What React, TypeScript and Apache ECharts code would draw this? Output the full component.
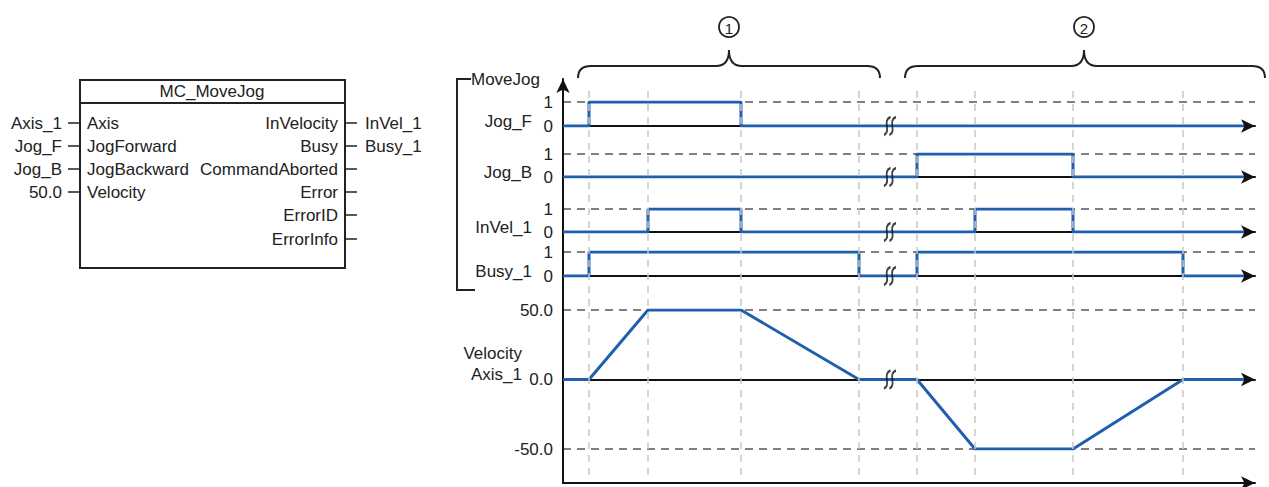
import React, { useEffect, useRef } from 'react';
import * as echarts from 'echarts';

// ---------- data ----------
const rowNames = ['Jog_F', 'Jog_B', 'InVel_1', 'Busy_1'];
const jogF = [[0, 0], [26, 1], [178, 0], [681, 0]];
const jogB = [[0, 0], [354, 1], [510, 0], [681, 0]];
const inVel = [[0, 0], [85, 1], [178, 0], [412, 1], [510, 0], [681, 0]];
const busy = [[0, 0], [26, 1], [296, 0], [354, 1], [620, 0], [681, 0]];
const velocity = [[0, 0], [26, 0], [85, 50], [178, 50], [296, 0], [354, 0], [412, -50], [510, -50], [620, 0], [681, 0]];
const digitalMin = 0;
const digitalMax = 1;
const velocityMin = -50;
const velocityMax = 50;
const velocityStep = 50;
const eventTimes = [26, 85, 178, 296, 354, 412, 510, 620];
const breakTime = 327;
const timeMax = 692;
const phaseLabels = ['1', '2'];
const blockTitle = 'MC_MoveJog';
const blockInputs = ['Axis', 'JogForward', 'JogBackward', 'Velocity'];
const blockOutputs = ['InVelocity', 'Busy', 'CommandAborted', 'Error', 'ErrorID', 'ErrorInfo'];
const inputActuals = ['Axis_1', 'Jog_F', 'Jog_B', '50.0'];
const outputActuals = ['InVel_1', 'Busy_1'];
const groupLabel = 'MoveJog';
const velocityLabel = ['Velocity', 'Axis_1'];

// ---------- layout / style ----------
const FONT = '"Liberation Sans", Arial, sans-serif';
const BLUE = '#1f5fae';
const INK = '#222';
const AX = '#111';
const LEFT = 563;
const RIGHT = 1269 - 1255;
const rowTops = [102, 154, 209, 252];
const rowHeights = [24, 23, 23, 24];
const velTop = 310;
const velHeight = 139;
const ovTop = 79;
const ovBottom = 483;
const guideTop = 392;
const blockRows = [123, 146, 169, 192, 215, 239];

const SQUIGGLE = 'path://M0 17 C7 14 -2 3 6 0 M5 17 C12 14 3 3 11 0';

const braceD1 = 'M578 78 Q578 66 591 66 L716 66 Q729 66 729 50 Q729 66 742 66 L867 66 Q880 66 880 78';
const braceD2 = 'M905 78 Q905 66 918 66 L1071 66 Q1084 66 1084 50 Q1084 66 1097 66 L1252 66 Q1265 66 1265 78';

let shapesRegistered = false;
function registerShapes() {
  if (shapesRegistered) return;
  echarts.graphic.registerShape('brace1', echarts.graphic.extendPath(braceD1, {}));
  echarts.graphic.registerShape('brace2', echarts.graphic.extendPath(braceD2, {}));
  shapesRegistered = true;
}

const txt = (text: string, x: number, y: number, align: string = 'left', size = 17) => ({
  type: 'text',
  silent: true,
  style: {
    text, x, y, fill: INK, font: `${size}px ${FONT}`,
    align, verticalAlign: 'middle', textAlign: align, textVerticalAlign: 'middle',
  },
});
const seg = (x1: number, y1: number, x2: number, y2: number, w = 2) => ({
  type: 'line', silent: true,
  shape: { x1, y1, x2, y2 },
  style: { stroke: INK, lineWidth: w },
});

export default function App() {
  const ref = useRef<HTMLDivElement>(null);
  useEffect(() => {
    if (!ref.current) return;
    registerShapes();
    const chart = echarts.init(ref.current, undefined, { renderer: 'svg' });

    const rowData = [jogF, jogB, inVel, busy];
    const grids: any[] = [];
    const xAxes: any[] = [];
    const yAxes: any[] = [];
    const series: any[] = [];

    const xAxisBase = (i: number) => ({
      gridIndex: i, type: 'value', min: 0, max: timeMax,
      axisLine: { show: true, onZero: true, symbol: ['none', 'arrow'], symbolSize: [10, 14], lineStyle: { color: AX, width: 2 } },
      axisTick: { show: false }, axisLabel: { show: false }, splitLine: { show: false },
    });
    const dashed = { show: true, lineStyle: { color: '#555', type: [8, 6], width: 1.5 } };
    const breakMark = (i: number) => ({
      type: 'scatter', xAxisIndex: i, yAxisIndex: i, data: [[breakTime, 0]], symbol: SQUIGGLE,
      symbolSize: [12, 18], itemStyle: { color: 'rgba(0,0,0,0)', borderColor: AX, borderWidth: 2.2 }, z: 10, silent: true,
    });

    rowData.forEach((d, i) => {
      grids.push({ left: LEFT, right: RIGHT, top: rowTops[i], height: rowHeights[i] });
      xAxes.push(xAxisBase(i));
      yAxes.push({
        gridIndex: i, type: 'value', min: digitalMin, max: digitalMax, interval: 1,
        axisLine: { show: false }, axisTick: { show: false },
        axisLabel: { fontSize: 17, color: INK, margin: 10, fontFamily: FONT },
        splitLine: dashed,
      });
      series.push({
        type: 'line', xAxisIndex: i, yAxisIndex: i, data: d, step: 'end', symbol: 'none',
        lineStyle: { color: BLUE, width: 3 }, z: 3, silent: true,
      });
      series.push(breakMark(i));
    });

    // velocity
    grids.push({ left: LEFT, right: RIGHT, top: velTop, height: velHeight });
    xAxes.push(xAxisBase(4));
    yAxes.push({
      gridIndex: 4, type: 'value', min: velocityMin, max: velocityMax, interval: velocityStep,
      axisLine: { show: false }, axisTick: { show: false },
      axisLabel: { fontSize: 17, color: INK, margin: 10, fontFamily: FONT, formatter: (v: number) => v.toFixed(1) },
      splitLine: dashed,
    });
    series.push({
      type: 'line', xAxisIndex: 4, yAxisIndex: 4, data: velocity, symbol: 'none',
      lineStyle: { color: BLUE, width: 3 }, z: 3, silent: true,
    });
    series.push(breakMark(4));

    // overlay: main axes + guide lines
    grids.push({ left: LEFT, right: RIGHT, top: ovTop, bottom: 487 - ovBottom });
    xAxes.push(xAxisBase(5));
    yAxes.push({
      gridIndex: 5, type: 'value', min: 0, max: ovBottom - ovTop,
      axisLine: { show: true, symbol: ['none', 'arrow'], symbolSize: [10, 14], lineStyle: { color: AX, width: 2 } },
      axisTick: { show: false }, axisLabel: { show: false }, splitLine: { show: false },
    });
    series.push({
      type: 'line', xAxisIndex: 5, yAxisIndex: 5, data: [[0, 0]], symbol: 'none', showSymbol: false,
      lineStyle: { width: 0 }, z: 1, silent: true,
      markLine: {
        silent: true, symbol: ['none', 'none'], label: { show: false },
        lineStyle: { color: '#c8c8c8', type: [7, 6], width: 1.5 },
        data: eventTimes.map((t) => [{ coord: [t, guideTop] }, { coord: [t, 2] }]),
      },
    });

    // ---------- graphic annotations ----------
    const zeroLevels = rowTops.map((t, i) => t + rowHeights[i]);
    const graphic: any[] = [];

    graphic.push({
      type: 'polyline', silent: true,
      shape: { points: [[471, 79], [457, 79], [457, 290], [475, 290]] },
      style: { stroke: INK, lineWidth: 2, fill: 'none' },
    });
    graphic.push(txt(groupLabel, 471, 79));
    rowNames.forEach((n, i) => graphic.push(txt(n, 532, zeroLevels[i] - 5, 'right')));
    graphic.push(txt(velocityLabel[0], 522, 353, 'right'));
    graphic.push(txt(velocityLabel[1], 522, 374, 'right'));

    graphic.push({ type: 'brace1', silent: true, x: 0, y: 0, style: { fill: 'none', stroke: INK, lineWidth: 2 } });
    graphic.push({ type: 'brace2', silent: true, x: 0, y: 0, style: { fill: 'none', stroke: INK, lineWidth: 2 } });
    const phaseX = [729, 1084];
    phaseLabels.forEach((p, i) => {
      graphic.push({ type: 'circle', silent: true, shape: { cx: phaseX[i], cy: 27, r: 10 }, style: { fill: 'none', stroke: INK, lineWidth: 1.8 } });
      graphic.push(txt(p, phaseX[i], 28, 'center', 15));
    });

    graphic.push({ type: 'rect', silent: true, shape: { x: 80, y: 80, width: 265, height: 188 }, style: { fill: 'none', stroke: INK, lineWidth: 2 } });
    graphic.push(seg(80, 103, 345, 103, 2));
    graphic.push(txt(blockTitle, 212, 91, 'center'));
    blockInputs.forEach((n, i) => {
      graphic.push(txt(n, 87, blockRows[i]));
      graphic.push(seg(68, blockRows[i], 80, blockRows[i], 1.5));
      graphic.push(txt(inputActuals[i], 62, blockRows[i], 'right'));
    });
    blockOutputs.forEach((n, i) => {
      graphic.push(txt(n, 338, blockRows[i], 'right'));
      graphic.push(seg(345, blockRows[i], 357, blockRows[i], 1.5));
      if (outputActuals[i]) graphic.push(txt(outputActuals[i], 365, blockRows[i]));
    });

    chart.setOption({
      animation: false,
      backgroundColor: '#fff',
      grid: grids,
      xAxis: xAxes,
      yAxis: yAxes,
      series,
      graphic,
    });
    return () => chart.dispose();
  }, []);
  return <div ref={ref} style={{ position: 'fixed', left: 0, top: 0, width: 1269, height: 487 }} />;
}
